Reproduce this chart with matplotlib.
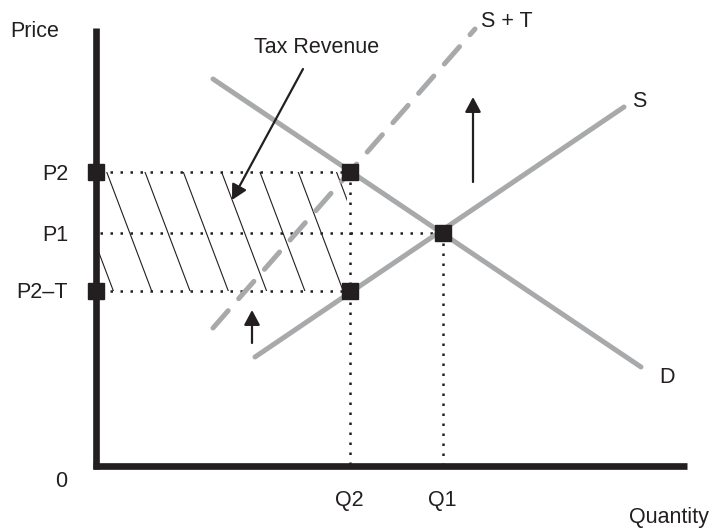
import matplotlib
matplotlib.use("Agg")
import matplotlib.pyplot as plt
import numpy as np
from matplotlib.patches import Rectangle

plt.rcParams['font.family'] = ['Liberation Sans', 'DejaVu Sans']

# quantities and prices (origin at the axis corner)
Q2, Q1 = 254, 347
P2, P1, P2T = 294, 233, 175

# curve end points as (quantity, price)
demand = [(117, 387), (545, 99)]
supply = [(159, 109), (528, 359)]
supply_tax = [(117, 138), (379, 437)]

price_labels = ["P2", "P1", "P2\u2013T"]
price_values = [P2, P1, P2T]
qty_labels = ["Q2", "Q1"]
qty_values = [Q2, Q1]

gray = "#a8a9ab"
ink = "#231f20"

fig = plt.figure(figsize=(7.11, 5.30), dpi=100)
ax = fig.add_axes([0, 0, 1, 1])
ax.set_xlim(-96, 615)
ax.set_ylim(-64, 466)
ax.axis("off")

# hatched tax revenue area, clipped to the box between P2 and P2-T
box = Rectangle((0, P2T), Q2 - 3, P2 - P2T, transform=ax.transData,
                fill=False, edgecolor="none")
ax.add_patch(box)
step = 38.3
lean = 45 / 119.0
for x0 in np.arange(10.7 - step, Q2 + step, step):
    ln, = ax.plot([x0, x0 + lean * (P2 - P2T)], [P2, P2T], color=ink, lw=0.8, zorder=2)
    ln.set_clip_path(box)

# dotted guide lines
dots = dict(color=ink, lw=1.8, linestyle=(0, (1, 3)), dash_capstyle="butt", zorder=2)
ax.plot([4, Q2], [P2, P2], **dots)
ax.plot([4, Q1], [P1, P1], **dots)
ax.plot([4, Q2], [P2T, P2T], **dots)
ax.plot([Q2, Q2], [P2, 0], **dots)
ax.plot([Q1, Q1], [P1, 0], **dots)

# demand, supply and supply plus tax
for pts in (demand, supply):
    xs, ys = zip(*pts)
    ax.plot(xs, ys, color=gray, lw=3.6, solid_capstyle="round", zorder=3)
xs, ys = zip(*supply_tax)
ax.plot(xs, ys, color=gray, lw=3.6, linestyle=(0, (4.6, 3.2)),
        dash_capstyle="round", zorder=3)

# axes
ax.plot([0, 0], [-3, 438], color=ink, lw=4.8, solid_capstyle="butt", zorder=4)
ax.plot([-3, 591], [0, 0], color=ink, lw=4.8, solid_capstyle="butt", zorder=4)

# points
ax.plot([0, 0], [P2, P2T], "s", color=ink, ms=12.2, zorder=5)
ax.plot([Q2, Q2, Q1], [P2, P2T, P1], "s", color=ink, ms=12.2, zorder=5)

# arrows
arr = dict(arrowstyle="-|>,head_length=0.45,head_width=0.24", mutation_scale=20,
           color=ink, lw=1.6, shrinkA=0, shrinkB=0)
ax.annotate("", xy=(377, 369), xytext=(377, 284), arrowprops=arr, zorder=6)
ax.annotate("", xy=(156, 156), xytext=(156, 123), arrowprops=arr, zorder=6)
ax.annotate("", xy=(136, 266), xytext=(207, 397), arrowprops=arr, zorder=6)

# labels
fs = 15.5
for lab, p, base in zip(price_labels, price_values, [286, 225, 168]):
    ax.text(-28, base, lab, ha="right", va="baseline", fontsize=fs, color=ink)
for lab, q in zip(qty_labels, qty_values):
    ax.text(q - 1, -40, lab, ha="center", va="baseline", fontsize=fs, color=ink)
ax.text(-35, -21, "0", ha="center", va="baseline", fontsize=fs, color=ink)
ax.text(-86, 429, "Price", ha="left", va="baseline", fontsize=fs, color=ink)
ax.text(613, -57, "Quantity", ha="right", va="baseline", fontsize=fs, color=ink)
ax.text(221, 413, "Tax Revenue", ha="center", va="baseline", fontsize=fs, color=ink)
ax.text(385, 439, "S + T", ha="left", va="baseline", fontsize=fs, color=ink)
ax.text(536, 359, "S", ha="left", va="baseline", fontsize=fs, color=ink)
ax.text(563, 83, "D", ha="left", va="baseline", fontsize=fs, color=ink)

fig.savefig("out.png", dpi=100)
